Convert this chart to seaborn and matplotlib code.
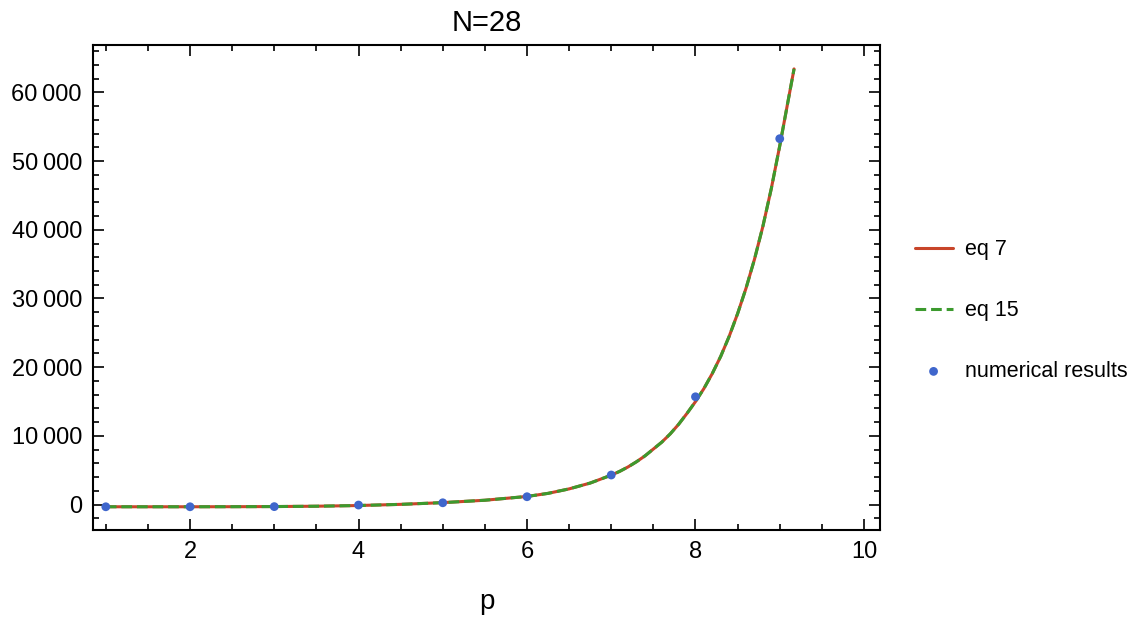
import numpy as np
import pandas as pd
import matplotlib
matplotlib.use("Agg")
import matplotlib.pyplot as plt
import matplotlib.ticker as mticker
import seaborn as sns

# numerical results
p_points = [1, 2, 3, 4, 5, 6, 7, 8, 9]
numerical = [-300, -300, -280, -50, 280, 1160, 4320, 15700, 53250]

# curve samples
p_curve = [1.0, 1.5, 2.0, 2.5, 3.0, 3.5, 4.0, 4.5, 5.0, 5.5, 6.0, 6.25, 6.5, 6.75,
           7.0, 7.1, 7.2, 7.3, 7.4, 7.5, 7.6, 7.7, 7.8, 7.9,
           8.0, 8.1, 8.2, 8.3, 8.4, 8.5, 8.6, 8.7, 8.8, 8.9, 9.0, 9.1, 9.17]
eq7 = [-300, -300, -300, -290, -270, -220, -120, 50, 300, 650, 1200, 1650, 2300, 3150,
       4300, 4850, 5500, 6250, 7100, 8100, 9100, 10300, 11700, 13300,
       15000, 16900, 19100, 21600, 24500, 27800, 31500, 35700, 40500, 46000, 52200, 58800, 63400]
eq15 = list(eq7)

labels = ["eq 7", "eq 15", "numerical results"]
title = "N=28"
xlabel = "p"

sns.set_theme(style="ticks")
plt.rcParams['font.family'] = ['Liberation Sans', 'DejaVu Sans']
plt.rcParams['text.color'] = 'black'
plt.rcParams['axes.labelcolor'] = 'black'

fig = plt.figure(figsize=(11.34, 6.18), dpi=100)
ax = fig.add_axes([0.082, 0.1424, 0.694, 0.785])

red = "#C8452A"
green = "#3C9A2E"
blue = "#3F66CC"

df7 = pd.DataFrame({"p": p_curve, "v": eq7})
df15 = pd.DataFrame({"p": p_curve, "v": eq15})
dfp = pd.DataFrame({"p": p_points, "v": numerical})

sns.lineplot(data=df7, x="p", y="v", ax=ax, color=red, linewidth=2.2, label=labels[0], zorder=2)
sns.lineplot(data=df15, x="p", y="v", ax=ax, color=green, linewidth=2.2, label=labels[1],
             dashes=False, zorder=3)
ax.lines[-1].set_dashes([3.5, 1.6])
sns.scatterplot(data=dfp, x="p", y="v", ax=ax, color=blue, s=40, edgecolor="none",
                label=labels[2], zorder=4)

ax.set_xlim(0.848, 10.19)
ax.set_ylim(-3680, 66900)
ax.xaxis.set_major_locator(mticker.MultipleLocator(2))
ax.xaxis.set_minor_locator(mticker.MultipleLocator(0.5))
ax.yaxis.set_major_locator(mticker.MultipleLocator(10000))
ax.yaxis.set_minor_locator(mticker.MultipleLocator(2000))
ax.yaxis.set_major_formatter(mticker.FuncFormatter(
    lambda v, pos: f"{int(round(v)):,}".replace(",", "\u2009")))

ax.tick_params(which="both", direction="in", top=True, right=True, colors="black",
               labelcolor="black", labelsize=17, width=1.2)
ax.tick_params(which="major", length=8, pad=8)
ax.tick_params(which="minor", length=4)
for s in ax.spines.values():
    s.set_color("black")
    s.set_linewidth(1.5)

ax.set_title(title, fontsize=21, pad=10, color="black")
ax.set_xlabel(xlabel, fontsize=20, labelpad=19, color="black")
ax.set_ylabel("")

leg = ax.legend(loc="center left", bbox_to_anchor=(1.044, 0.452), frameon=False,
                fontsize=15.5, labelspacing=1.85, handlelength=1.76, handletextpad=0.6,
                borderaxespad=0, borderpad=0)
for t in leg.get_texts():
    t.set_color("black")

fig.savefig("out.png", dpi=100)
